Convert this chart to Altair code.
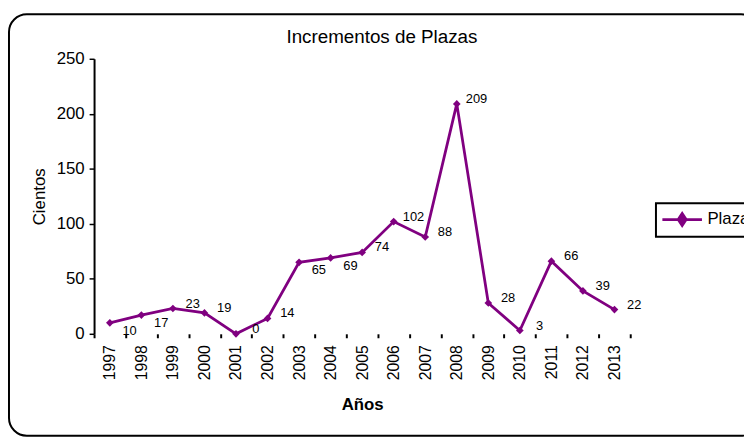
import altair as alt
import pandas as pd

years = ["1997", "1998", "1999", "2000", "2001", "2002", "2003", "2004", "2005",
         "2006", "2007", "2008", "2009", "2010", "2011", "2012", "2013"]
values = [10, 17, 23, 19, 0, 14, 65, 69, 74, 102, 88, 209, 28, 3, 66, 39, 22]
series = ["Plazas"] * len(years)
y_ticks = [0, 50, 100, 150, 200, 250]
title_text = ["Incrementos de Plazas"]
labels_below = ["1997", "1998", "2003", "2004"]

df = pd.DataFrame({"year": years, "value": values, "serie": series})

PURPLE = "#800080"
FONT = "Liberation Sans"

x_enc = alt.X(
    "year:O",
    scale=alt.Scale(type="band", paddingInner=0, paddingOuter=0),
    axis=alt.Axis(
        title="Años", labelAngle=270, labelFontSize=16, labelPadding=7,
        domain=False, ticks=True, tickBand="extent", tickSize=4, tickWidth=2,
        titleFontSize=17, titleFontWeight="bold", titlePadding=17,
    ),
)
y_enc = alt.Y(
    "value:Q",
    scale=alt.Scale(domain=[0, 250], nice=False),
    axis=alt.Axis(
        title="Cientos", values=y_ticks, labelFontSize=17, labelPadding=5,
        tickSize=5, tickWidth=1.5, domainWidth=2, grid=False,
        titleFontSize=17, titleFontWeight="normal", titlePadding=8,
    ),
)

base = alt.Chart(df).encode(x=x_enc, y=y_enc)

border = alt.Chart(pd.DataFrame({"a": [0]})).mark_rect(
    filled=False, stroke="black", strokeWidth=2, cornerRadius=18
).encode(x=alt.value(-86), x2=alt.value(672), y=alt.value(-45), y2=alt.value(381))

title = alt.Chart(pd.DataFrame({"t": title_text})).mark_text(
    fontSize=19, font=FONT, color="black", align="center", baseline="alphabetic"
).encode(text="t:N", x=alt.value(291), y=alt.value(-16))

line = base.mark_line(strokeWidth=2.8).encode(
    color=alt.Color(
        "serie:N",
        scale=alt.Scale(range=[PURPLE]),
        legend=alt.Legend(
            title=None, orient="none", legendX=568, legendY=146,
            symbolType="M-1,0H3M1,-0.6L1.4,0L1,0.6L0.6,0Z",
            symbolSize=400, symbolStrokeWidth=2.8, symbolFillColor=PURPLE,
            labelFontSize=17, labelOffset=24, padding=5,
        ),
    )
)

points = base.mark_point(shape="diamond", filled=True, size=60, color=PURPLE, opacity=1)

labels_up = base.mark_text(dx=20, dy=-5, fontSize=13, font=FONT, color="black").encode(
    text="value:Q"
).transform_filter(~alt.FieldOneOfPredicate(field="year", oneOf=labels_below))

labels_down = base.mark_text(dx=20, dy=8, fontSize=13, font=FONT, color="black").encode(
    text="value:Q"
).transform_filter(alt.FieldOneOfPredicate(field="year", oneOf=labels_below))

chart = alt.layer(border, title, line, points, labels_up, labels_down).properties(
    width=542,
    height=278,
    autosize=alt.AutoSizeParams(type="none"),
    padding={"left": 87, "top": 49, "right": 115, "bottom": 104},
    background="white",
).configure_view(stroke=None).configure_axis(
    labelFont=FONT, titleFont=FONT, labelColor="black", titleColor="black",
    domainColor="black", tickColor="black",
).configure_legend(
    labelFont=FONT, labelColor="black", strokeColor="black", strokeWidth=2,
)

chart.save("out.html", embed_options={"renderer": "svg", "actions": False})
